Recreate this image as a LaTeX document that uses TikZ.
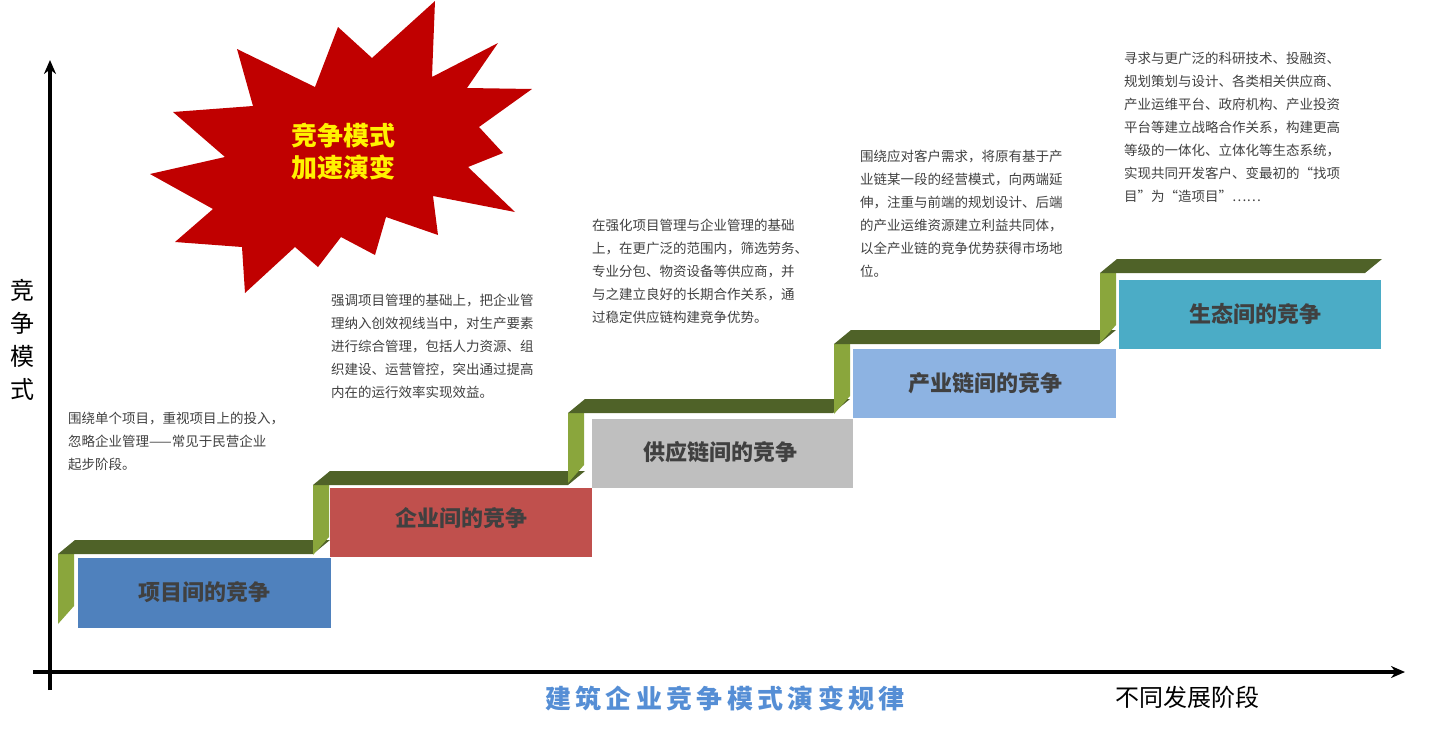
\documentclass[tikz,border=0pt]{standalone}
\usepackage{fontspec}
\setmainfont{Noto Sans CJK SC}
\usetikzlibrary{arrows.meta}
\definecolor{riser}{HTML}{8AA63C}
\definecolor{topbar}{HTML}{4F6228}
\definecolor{txt}{HTML}{404040}
\tikzset{
  desc/.style={anchor=north west,align=left,text=txt,font=\fontsize{13.5}{23}\selectfont,inner sep=0pt},
  stagelbl/.style={text=txt,font=\fontsize{22}{26}\selectfont\bfseries},
}
\newcommand{\stepunit}[6]{% x riserx, ytop, boxx1, boxx2, boxy1, boxy2
  \fill[riser] (#1,#2) -- (#1+16,#2) -- (#1+16,#2+52) -- (#1,#2+70) -- cycle;
  \fill[topbar] (#1,#2) -- (#1+17,#2-14) -- (#4,#2-14) -- (#4-17,#2) -- cycle;
}
\begin{document}
\begin{tikzpicture}[x=1pt,y=-1pt]
\useasboundingbox (0,0) rectangle (1434,734);
% star
\fill[fill={rgb,255:red,192;green,0;blue,0}] (237,49)--(315,87)--(338,27)--(372,58)--(435,1)--(432,77)--(498,43)--(467,88)--(532,89)--(479,127)--(503,153)--(468,167)--(515,212)--(433,196)--(438,235)--(386,217)--(375,255)--(341,237)--(318,267)--(295,247)--(245,293)--(242,247)--(175,242)--(213,209)--(150,174)--(225,157)--(173,112)--(253,106)--cycle;
\node[text=yellow,font=\fontsize{26}{32}\selectfont\bfseries,align=center] (star) at (343,152) {竞争模式\\加速演变};
% steps
\stepunit{58}{554}{}{330}{}{}
\stepunit{313}{485}{}{585}{}{}
\stepunit{568}{413}{}{850}{}{}
\stepunit{834}{344}{}{1116}{}{}
\stepunit{1100}{273}{}{1382}{}{}
\fill[fill={rgb,255:red,79;green,129;blue,189}] (78,558) rectangle (331,628);
\node[stagelbl] (s1) at (204,592) {项目间的竞争};
\fill[fill={rgb,255:red,192;green,80;blue,77}] (330,488) rectangle (592,557);
\node[stagelbl] (s2) at (461,518) {企业间的竞争};
\fill[fill={rgb,255:red,191;green,191;blue,191}] (592,419) rectangle (853,488);
\node[stagelbl] (s3) at (720,452) {供应链间的竞争};
\fill[fill={rgb,255:red,141;green,179;blue,226}] (853,349) rectangle (1116,418);
\node[stagelbl] (s4) at (985,383) {产业链间的竞争};
\fill[fill={rgb,255:red,75;green,172;blue,198}] (1119,280) rectangle (1381,349);
\node[stagelbl] (s5) at (1255,314) {生态间的竞争};
% axes
\coordinate (o) at (50,690);
\coordinate (ytop) at (50,60);
\coordinate (xl) at (33,672);
\coordinate (xr) at (1405,672);
\draw[line width=3.5pt,-{Stealth[length=14pt,width=12pt]}] (o) -- (ytop);
\draw[line width=3.5pt,-{Stealth[length=14pt,width=12pt]}] (xl) -- (xr);
\node[font=\fontsize{24}{33}\selectfont,align=center] (ylab) at (22,340) {竞\\争\\模\\式};
\node[font=\fontsize{24}{28}\selectfont] (xlab) at (1187,697) {不同发展阶段};
\node[font=\fontsize{26}{30}\selectfont\bfseries,text={rgb,255:red,85;green,142;blue,213}] (title) at (725,698) {建\,筑\,企\,业\,竞\,争\,模\,式\,演\,变\,规\,律};
% descriptions
\node[desc] (d1) at (68,412) {围绕单个项目，重视项目上的投入，\\忽略企业管理——常见于民营企业\\起步阶段。};
\node[desc] (d2) at (331,294) {强调项目管理的基础上，把企业管\\理纳入创效视线当中，对生产要素\\进行综合管理，包括人力资源、组\\织建设、运营管控，突出通过提高\\内在的运行效率实现效益。};
\node[desc] (d3) at (592,219) {在强化项目管理与企业管理的基础\\上，在更广泛的范围内，筛选劳务、\\专业分包、物资设备等供应商，并\\与之建立良好的长期合作关系，通\\过稳定供应链构建竞争优势。};
\node[desc] (d4) at (860,150) {围绕应对客户需求，将原有基于产\\业链某一段的经营模式，向两端延\\伸，注重与前端的规划设计、后端\\的产业运维资源建立利益共同体，\\以全产业链的竞争优势获得市场地\\位。};
\node[desc] (d5) at (1124,52) {寻求与更广泛的科研技术、投融资、\\规划策划与设计、各类相关供应商、\\产业运维平台、政府机构、产业投资\\平台等建立战略合作关系，构建更高\\等级的一体化、立体化等生态系统，\\实现共同开发客户、变最初的“找项\\目”为“造项目”……};
\end{tikzpicture}
\end{document}
